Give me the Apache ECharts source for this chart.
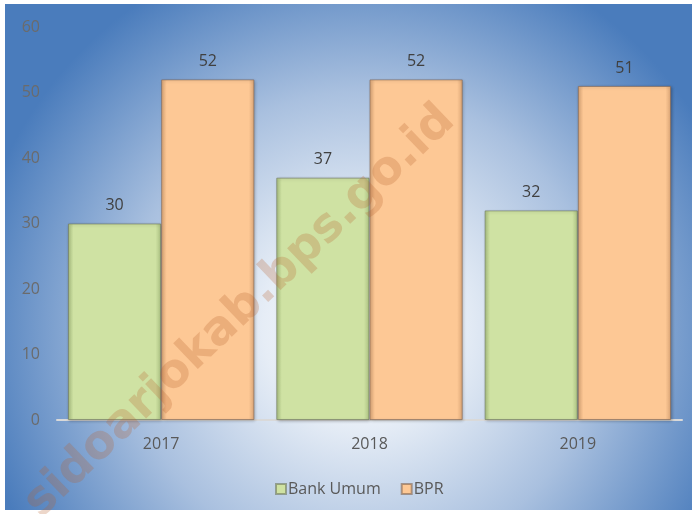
<!DOCTYPE html>
<html><head><meta charset="utf-8">
<script src="https://cdn.jsdelivr.net/npm/echarts@6/dist/echarts.min.js"></script>
<style>html,body{margin:0;padding:0;background:#fff}#c{width:692px;height:514px}</style>
</head><body><div id="c"></div>
<script>
var categories = ['2017', '2018', '2019'];
var bankUmum = [30, 37, 32];
var bpr = [52, 52, 51];
var yTicks = [0, 10, 20, 30, 40, 50, 60];
var seriesNames = ['Bank Umum', 'BPR'];
var watermarkText = 'sidoarjokab.bps.go.id';

var chart = echarts.init(document.getElementById('c'), null, {renderer: 'canvas'});
var FONT = '"Open Sans", "Noto Sans", sans-serif';

function barGrad(edge, mid) {
  return new echarts.graphic.LinearGradient(0, 0, 1, 0, [
    {offset: 0, color: edge}, {offset: 0.06, color: mid},
    {offset: 0.94, color: mid}, {offset: 1, color: edge}
  ]);
}

var option = {
  animation: false,
  backgroundColor: '#ffffff',
  graphic: [
    {type: 'rect', z: -10, silent: true,
     shape: {x: 5, y: 4, width: 687, height: 506},
     style: {fill: new echarts.graphic.RadialGradient(0.52, 0.64, 0.78, [
        {offset: 0, color: '#ffffff'},
        {offset: 0.25, color: '#e6edf6'},
        {offset: 0.6, color: '#a9c0df'},
        {offset: 1, color: '#4a7cbc'}
     ])}},
    {type: 'text', z: 100, silent: true,
     x: 240, y: 312, rotation: Math.PI / 4 * 0.97,
     style: {text: watermarkText, font: 'bold 47px "DejaVu Sans", sans-serif',
       fill: 'rgba(185,95,45,0.25)', textAlign: 'center', textVerticalAlign: 'middle'}}
  ],
  grid: {left: 57, right: 10, top: 27, bottom: 94},
  legend: {
    data: seriesNames, bottom: 12, left: 270,
    itemWidth: 10, itemHeight: 10, itemGap: 20, icon: 'rect',
    textStyle: {fontFamily: FONT, fontSize: 16, color: '#595959', padding: [0, 0, 0, -3]}
  },
  xAxis: {
    type: 'category', data: categories,
    axisLine: {lineStyle: {color: '#d9d9d9', width: 2}},
    axisTick: {show: false},
    axisLabel: {fontFamily: FONT, fontSize: 16, color: '#595959', margin: 16}
  },
  yAxis: {
    type: 'value', min: 0, max: 60, interval: 10,
    axisLine: {show: false}, axisTick: {show: false},
    splitLine: {show: false},
    axisLabel: {fontFamily: FONT, fontSize: 16, color: '#6b6b6b', margin: 17,
      formatter: function (v) { return yTicks.indexOf(v) >= 0 ? String(v) : ''; }}
  },
  series: [
    {name: seriesNames[0], type: 'bar', data: bankUmum,
     barGap: '0%', barCategoryGap: '10.5%',
     itemStyle: {color: barGrad('#a9bf80', '#cfe2a3'), borderColor: 'rgba(110,120,90,0.6)', borderWidth: 1,
       shadowColor: 'rgba(0,0,0,0.25)', shadowBlur: 3, shadowOffsetX: 1, shadowOffsetY: 1},
     label: {show: true, position: 'top', distance: 10, fontFamily: FONT, fontSize: 16, color: '#404040'}},
    {name: seriesNames[1], type: 'bar', data: bpr,
     barGap: '0%', barCategoryGap: '10.5%',
     itemStyle: {color: barGrad('#d9a475', '#fdc895'), borderColor: 'rgba(130,100,80,0.6)', borderWidth: 1,
       shadowColor: 'rgba(0,0,0,0.25)', shadowBlur: 3, shadowOffsetX: 1, shadowOffsetY: 1},
     label: {show: true, position: 'top', distance: 10, fontFamily: FONT, fontSize: 16, color: '#404040'}}
  ]
};
chart.setOption(option);
</script></body></html>
